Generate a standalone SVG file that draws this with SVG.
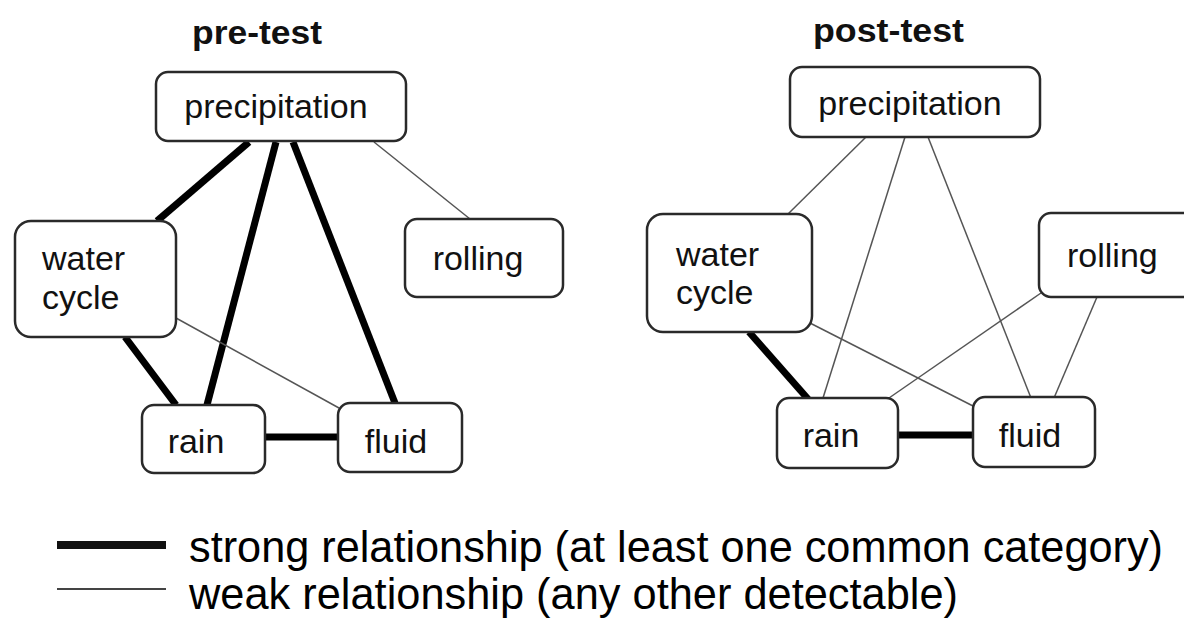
<svg xmlns="http://www.w3.org/2000/svg" width="1184" height="624" viewBox="0 0 1184 624">
<style>
.box{fill:#fff;stroke:#2a2a2a;stroke-width:2.5}
.lbl{font-family:"Liberation Sans",Arial,sans-serif;font-size:34px;fill:#111}
.title{font-family:"Liberation Sans",Arial,sans-serif;font-size:34px;font-weight:bold;fill:#111}
.strong{stroke:#000;stroke-width:7;stroke-linecap:butt}
.weak{stroke:#555;stroke-width:1.5}
.leg{font-family:"Liberation Sans",Arial,sans-serif;font-size:44px;fill:#000}
</style>
<rect width="1184" height="624" fill="#fff"/>
<g id="connectors">
  <line class="strong" x1="249" y1="142" x2="157" y2="221"/>
  <line class="strong" x1="276" y1="142" x2="207" y2="405"/>
  <line class="strong" x1="293" y1="142" x2="395" y2="403"/>
  <line class="strong" x1="125" y1="337" x2="176" y2="405"/>
  <line class="strong" x1="265" y1="437" x2="338" y2="437"/>
  <line class="weak" x1="374" y1="142" x2="470" y2="219"/>
  <line class="weak" x1="176" y1="318" x2="339" y2="408"/>
  <line class="strong" x1="749" y1="332" x2="808" y2="399"/>
  <line class="strong" x1="898" y1="435" x2="973" y2="435"/>
  <line class="weak" x1="866" y1="137" x2="788" y2="214"/>
  <line class="weak" x1="905" y1="137" x2="823" y2="398"/>
  <line class="weak" x1="928" y1="137" x2="1031" y2="398"/>
  <line class="weak" x1="808" y1="322" x2="973" y2="406"/>
  <line class="weak" x1="1041" y1="293" x2="889" y2="398"/>
  <line class="weak" x1="1097" y1="297" x2="1054" y2="398"/>
</g>
<g id="title-pre"><text class="title" x="192" y="44" textLength="130" lengthAdjust="spacingAndGlyphs">pre-test</text></g>
<g id="title-post"><text class="title" x="813" y="42" textLength="151" lengthAdjust="spacingAndGlyphs">post-test</text></g>
<g id="pre-precipitation">
  <rect class="box" x="156" y="72" width="250" height="69" rx="12"/>
  <text class="lbl" x="276" y="118" text-anchor="middle">precipitation</text>
</g>
<g id="pre-water-cycle">
  <rect class="box" x="15" y="221" width="161" height="116" rx="16"/>
  <text class="lbl" x="42" y="270">water</text>
  <text class="lbl" x="42" y="309">cycle</text>
</g>
<g id="pre-rolling">
  <rect class="box" x="405" y="219" width="158" height="78" rx="12"/>
  <text class="lbl" x="478" y="270" text-anchor="middle">rolling</text>
</g>
<g id="pre-rain">
  <rect class="box" x="142" y="405" width="123" height="68" rx="12"/>
  <text class="lbl" x="196" y="453" text-anchor="middle">rain</text>
</g>
<g id="pre-fluid">
  <rect class="box" x="338" y="403" width="124" height="69" rx="12"/>
  <text class="lbl" x="396" y="453" text-anchor="middle">fluid</text>
</g>
<g id="post-precipitation">
  <rect class="box" x="790" y="67" width="250" height="70" rx="12"/>
  <text class="lbl" x="910" y="115" text-anchor="middle">precipitation</text>
</g>
<g id="post-water-cycle">
  <rect class="box" x="647" y="214" width="165" height="118" rx="16"/>
  <text class="lbl" x="676" y="266">water</text>
  <text class="lbl" x="676" y="304">cycle</text>
</g>
<g id="post-rolling">
  <rect class="box" x="1039" y="213" width="160" height="84" rx="12"/>
  <text class="lbl" x="1067" y="267">rolling</text>
</g>
<g id="post-rain">
  <rect class="box" x="777" y="398" width="121" height="70" rx="12"/>
  <text class="lbl" x="831" y="447" text-anchor="middle">rain</text>
</g>
<g id="post-fluid">
  <rect class="box" x="973" y="397" width="122" height="70" rx="12"/>
  <text class="lbl" x="1030" y="447" text-anchor="middle">fluid</text>
</g>
<g id="legend">
  <line x1="57" y1="545" x2="166" y2="545" stroke="#111" stroke-width="8"/>
  <line x1="57" y1="589" x2="166" y2="589" stroke="#444" stroke-width="2"/>
  <text class="leg" x="189" y="562" textLength="974" lengthAdjust="spacingAndGlyphs">strong relationship (at least one common category)</text>
  <text class="leg" x="189" y="609" textLength="769" lengthAdjust="spacingAndGlyphs">weak relationship (any other detectable)</text>
</g>
</svg>
